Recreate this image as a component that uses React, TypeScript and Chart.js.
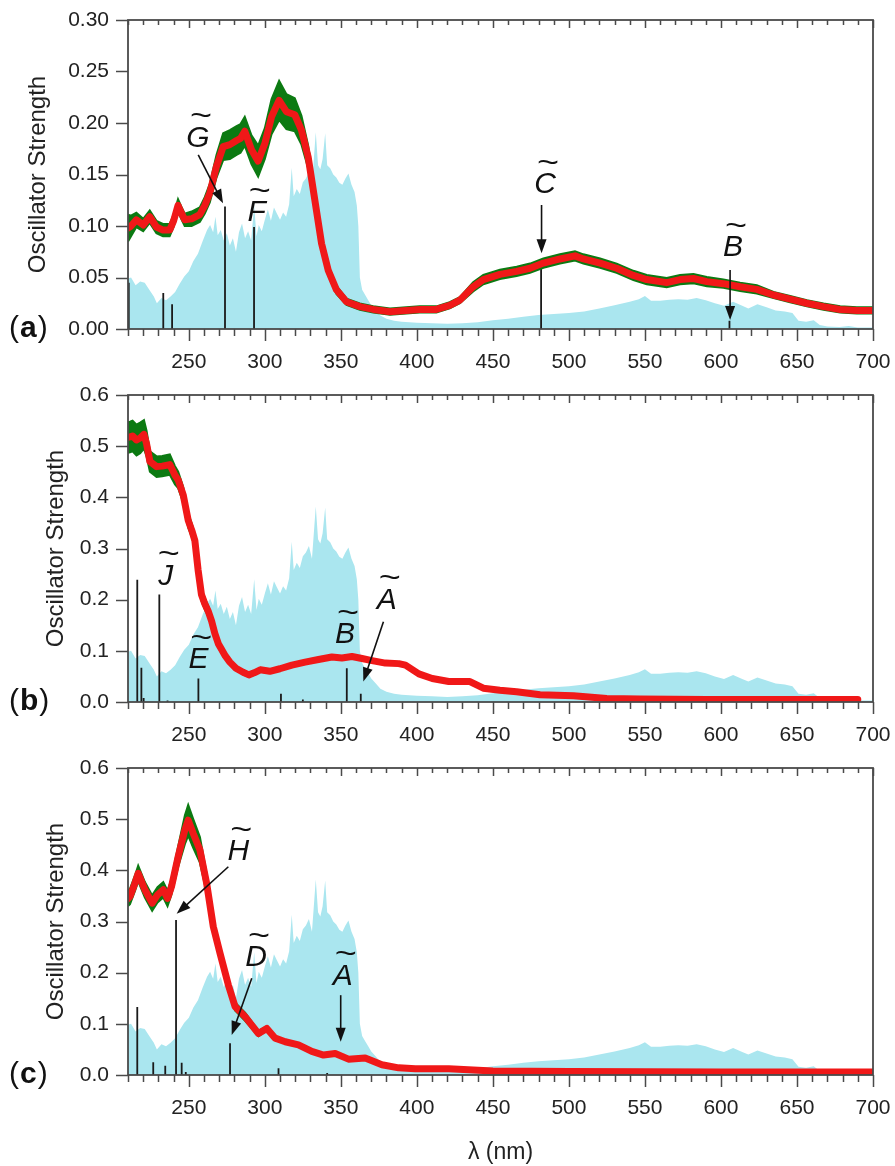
import { useEffect, useRef } from 'react';
import { Chart, registerables } from 'chart.js';

Chart.register(...registerables);

const FONT = '"Liberation Sans", Arial, Helvetica, sans-serif';

// ---------- shared reference spectrum (cyan), in units of panels (b)/(c) ----------
const refWavelength = [
  210, 212, 215, 218, 221, 224, 227, 229, 232, 235, 238, 241, 244, 247, 250, 253, 256, 259, 262, 264,
  266, 267.5, 269, 271, 273, 275, 277, 279, 281, 283, 285, 287, 289, 291, 293, 294.5, 296, 298, 300, 302,
  304, 306, 308, 310, 312, 314, 316, 317.7, 319, 321, 323, 325, 327, 329, 331, 333.5, 335, 336.5, 338, 339.7,
  341, 343, 345, 347, 349, 351, 353, 355, 357, 359, 360.5, 361.5, 362.5, 364, 366, 368, 370, 373, 376, 380,
  385, 390, 400, 410, 420, 430, 440, 450, 460, 470, 480, 490, 500, 510, 520, 530, 540, 546, 550, 554,
  560, 566, 572, 578, 584, 590, 596, 602, 608, 614, 618, 624, 630, 636, 642, 647, 651, 656, 661, 665,
  670, 678, 684, 690, 700,
];
const refSpectrum = [
  0.098, 0.100, 0.085, 0.092, 0.090, 0.076, 0.063, 0.050, 0.060, 0.056, 0.063, 0.072, 0.088, 0.102, 0.112, 0.132, 0.146, 0.170, 0.192, 0.202,
  0.188, 0.218, 0.182, 0.192, 0.172, 0.186, 0.162, 0.176, 0.150, 0.188, 0.205, 0.176, 0.190, 0.172, 0.240, 0.180, 0.202, 0.190, 0.212, 0.232,
  0.210, 0.236, 0.224, 0.212, 0.226, 0.218, 0.242, 0.313, 0.258, 0.272, 0.262, 0.285, 0.292, 0.305, 0.280, 0.382, 0.318, 0.310, 0.330, 0.380,
  0.318, 0.312, 0.300, 0.294, 0.284, 0.280, 0.292, 0.302, 0.280, 0.266, 0.240, 0.200, 0.100, 0.076, 0.066, 0.056, 0.046, 0.036, 0.026, 0.020,
  0.016, 0.014, 0.012, 0.011, 0.010, 0.011, 0.013, 0.017, 0.020, 0.024, 0.027, 0.029, 0.031, 0.034, 0.040, 0.046, 0.053, 0.058, 0.064, 0.055,
  0.055, 0.057, 0.058, 0.057, 0.060, 0.056, 0.050, 0.045, 0.053, 0.045, 0.040, 0.048, 0.042, 0.036, 0.034, 0.031, 0.016, 0.014, 0.017, 0.008,
  0.005, 0.004, 0.006, 0.003, 0.003,
];
const REF_SCALE_A = 0.5;
const REF_SCALE_BC = 1;

// ---------- panel (a) ----------
const wavelengthA = [
  210, 212, 215.5, 220, 224.3, 228.7, 233, 237.4, 240, 242.9, 245, 247.3, 251.8, 257.2, 260.5, 263.8, 268.2, 272.6, 277, 281.4,
  284, 286.8, 291.2, 295.6, 300, 304.4, 309.4, 314.2, 319.7, 324.1, 328.5, 332.9, 337.3, 341.7, 347.1, 353.7, 362.5, 371.3, 382.3, 393,
  401.8, 412.8, 421.6, 428.3, 437, 443.7, 454.6, 465.6, 474.4, 483.2, 494.1, 504, 509.5, 520.5, 531.4, 542.4, 551.2, 564.3, 573.1, 581.9,
  590.7, 601.6, 612.6, 623.6, 634.6, 645.5, 656.5, 667.5, 678.4, 689.4, 700,
];
const meanA = [
  0.098, 0.100, 0.106, 0.101, 0.109, 0.099, 0.096, 0.096, 0.105, 0.120, 0.113, 0.106, 0.107, 0.111, 0.120, 0.132, 0.158, 0.177, 0.179, 0.183,
  0.185, 0.192, 0.174, 0.163, 0.180, 0.206, 0.222, 0.211, 0.208, 0.193, 0.167, 0.125, 0.083, 0.057, 0.038, 0.0265, 0.0217, 0.019, 0.0168, 0.018,
  0.019, 0.019, 0.023, 0.028, 0.041, 0.048, 0.053, 0.056, 0.059, 0.064, 0.068, 0.071, 0.068, 0.064, 0.059, 0.052, 0.048, 0.045, 0.048, 0.049,
  0.046, 0.044, 0.041, 0.0385, 0.033, 0.029, 0.025, 0.0217, 0.019, 0.018, 0.018,
];
const bandA = [
  0.013, 0.010, 0.007, 0.006, 0.006, 0.006, 0.006, 0.006, 0.006, 0.006, 0.006, 0.006, 0.007, 0.007, 0.008, 0.009, 0.011, 0.013, 0.014, 0.014,
  0.014, 0.014, 0.014, 0.015, 0.015, 0.017, 0.019, 0.017, 0.016, 0.014, 0.011, 0.008, 0.006, 0.005, 0.004, 0.003, 0.003, 0.003, 0.003, 0.003,
  0.003, 0.003, 0.003, 0.003, 0.0045, 0.0045, 0.0045, 0.0045, 0.0045, 0.0045, 0.0045, 0.0045, 0.0045, 0.0045, 0.0045, 0.0045, 0.0045, 0.0045, 0.0045, 0.0045,
  0.0045, 0.004, 0.004, 0.004, 0.003, 0.003, 0.003, 0.003, 0.003, 0.003, 0.003,
];
const stickWavelengthA = [210.5, 233.2, 239, 273.8, 292.9, 481.7, 605.6];
const stickStrengthA = [0.045, 0.035, 0.024, 0.119, 0.099, 0.0605, 0.008];
const labelsA = [
  { text: 'G', x: 256, y: 0.185 },
  { text: 'F', x: 294.7, y: 0.1126 },
  { text: 'C', x: 484.3, y: 0.1398 },
  { text: 'B', x: 608, y: 0.0786 },
];
const arrowsA = [
  { x1: 256.2, y1: 0.169, x2: 272.5, y2: 0.122 },
  { x1: 482, y1: 0.1204, x2: 482, y2: 0.0735 },
  { x1: 606, y1: 0.0573, x2: 606, y2: 0.0087 },
];

// ---------- panel (b) ----------
const wavelengthB = [
  210, 211.3, 213, 215.6, 218, 220.5, 222.2, 224.4, 228.8, 232.5, 237.5, 240.9, 243, 246.3, 249.6, 252, 254, 256.1, 258.3, 260.5,
  262.7, 265, 267.1, 269.4, 271.5, 274, 277, 281, 285.7, 289.5, 293, 297, 303.3, 309.9, 317.8, 326.5, 335.3, 344.1, 350.7, 357.3,
  363.9, 370.5, 379.3, 388.1, 392.5, 401.3, 410.1, 421, 434.9, 443.7, 454.6, 465.6, 481, 503, 524.9, 546.8, 590.7, 634.6, 690,
];
const meanB = [
  0.517, 0.518, 0.520, 0.512, 0.516, 0.523, 0.505, 0.470, 0.460, 0.461, 0.464, 0.443, 0.434, 0.405, 0.355, 0.335, 0.315, 0.258, 0.210, 0.192,
  0.178, 0.158, 0.134, 0.114, 0.103, 0.090, 0.078, 0.066, 0.058, 0.053, 0.057, 0.063, 0.060, 0.065, 0.072, 0.078, 0.083, 0.088, 0.086, 0.089,
  0.085, 0.081, 0.076, 0.075, 0.072, 0.055, 0.046, 0.040, 0.040, 0.027, 0.023, 0.020, 0.014, 0.012, 0.007, 0.006, 0.005, 0.005, 0.005,
];
const bandB = [
  0.030, 0.030, 0.030, 0.030, 0.030, 0.028, 0.025, 0.020, 0.020, 0.020, 0.020, 0.018, 0.016, 0.015, 0.014, 0.013, 0.012, 0.012, 0.012, 0.011,
  0.010, 0.009, 0.008, 0.007, 0.006, 0.005, 0.004, 0.004, 0.004, 0.004, 0.004, 0.004, 0.003, 0.003, 0.003, 0.003, 0.003, 0.003, 0.003, 0.003,
  0.003, 0.003, 0.003, 0.003, 0.003, 0.002, 0.002, 0.002, 0.002, 0.002, 0.002, 0.002, 0.002, 0.002, 0.002, 0.002, 0.002, 0.002, 0.002,
];
const stickWavelengthB = [216.1, 218.8, 220.3, 230.6, 236, 256.3, 310.6, 325, 353.9, 363.1];
const stickStrengthB = [0.239, 0.067, 0.008, 0.21, 0.003, 0.046, 0.016, 0.005, 0.066, 0.016];
const labelsB = [
  { text: 'J', x: 234.8, y: 0.245 },
  { text: 'E', x: 256.3, y: 0.082 },
  { text: 'B', x: 352.8, y: 0.131 },
  { text: 'A', x: 380.2, y: 0.199 },
];
const arrowsB = [{ x1: 378, y1: 0.157, x2: 364.8, y2: 0.04 }];

// ---------- panel (c) ----------
const wavelengthC = [
  210, 211.3, 214.6, 216.7, 221.1, 225.9, 229.4, 233.2, 236, 238.6, 243, 247.4, 249.6, 252.9, 257.3, 261.7, 266.1, 270.5, 276, 280.4,
  287, 295.8, 301.3, 306.8, 313.4, 322.1, 330.9, 338.6, 346.3, 355, 366, 377, 388, 399, 421, 450, 500, 600, 700,
];
const meanC = [
  0.345, 0.349, 0.375, 0.394, 0.362, 0.336, 0.352, 0.362, 0.345, 0.368, 0.427, 0.479, 0.498, 0.472, 0.440, 0.375, 0.290, 0.238, 0.176, 0.134,
  0.114, 0.081, 0.091, 0.072, 0.065, 0.059, 0.046, 0.039, 0.042, 0.031, 0.033, 0.020, 0.014, 0.012, 0.012, 0.008, 0.007, 0.006, 0.006,
];
const bandC = [
  0.015, 0.015, 0.015, 0.015, 0.015, 0.015, 0.015, 0.015, 0.015, 0.015, 0.020, 0.028, 0.030, 0.028, 0.025, 0.018, 0.014, 0.012, 0.010, 0.008,
  0.008, 0.005, 0.004, 0.003, 0.003, 0.002, 0.002, 0.002, 0.002, 0.002, 0.002, 0.002, 0.002, 0.002, 0.002, 0.002, 0.002, 0.002, 0.002,
];
const stickWavelengthC = [216.1, 226.6, 234.5, 241.6, 245.3, 248, 277.1, 309, 341];
const stickStrengthC = [0.133, 0.025, 0.018, 0.303, 0.024, 0.006, 0.062, 0.013, 0.004];
const labelsC = [
  { text: 'H', x: 282.6, y: 0.436 },
  { text: 'D', x: 294.2, y: 0.229 },
  { text: 'A', x: 351.2, y: 0.192 },
];
const arrowsC = [
  { x1: 276, y1: 0.407, x2: 242, y2: 0.315 },
  { x1: 291.4, y1: 0.189, x2: 278.2, y2: 0.078 },
  { x1: 349.9, y1: 0.156, x2: 349.9, y2: 0.065 },
];

// ---------- axes ----------
const xTickLabels = [250, 300, 350, 400, 450, 500, 550, 600, 650, 700];
const X_MIN = 210;
const X_MAX = 700;
const X_MINOR_STEP = 10;
const yTicksA = [0, 0.05, 0.1, 0.15, 0.2, 0.25, 0.3];
const yTicksBC = [0, 0.1, 0.2, 0.3, 0.4, 0.5, 0.6];

type Label = { text: string; x: number; y: number };
type Arrow = { x1: number; y1: number; x2: number; y2: number };
type Panel = {
  tag: string;
  top: number;
  height: number;
  areaBottom: number;
  yMax: number;
  yTicks: number[];
  digits: number;
  wl: number[];
  mean: number[];
  band: number[];
  refScale: number;
  sticksX: number[];
  sticksY: number[];
  labels: Label[];
  arrows: Arrow[];
  titleCenter: number;
  xTitle: boolean;
};

const PANELS: Panel[] = [
  { tag: 'a', top: 0, height: 375, areaBottom: 329, yMax: 0.3, yTicks: yTicksA, digits: 2, wl: wavelengthA, mean: meanA, band: bandA, refScale: REF_SCALE_A, sticksX: stickWavelengthA, sticksY: stickStrengthA, labels: labelsA, arrows: arrowsA, titleCenter: 38, xTitle: false },
  { tag: 'b', top: 375, height: 373, areaBottom: 327, yMax: 0.6, yTicks: yTicksBC, digits: 1, wl: wavelengthB, mean: meanB, band: bandB, refScale: REF_SCALE_BC, sticksX: stickWavelengthB, sticksY: stickStrengthB, labels: labelsB, arrows: arrowsB, titleCenter: 56, xTitle: false },
  { tag: 'c', top: 748, height: 418, areaBottom: 327, yMax: 0.6, yTicks: yTicksBC, digits: 1, wl: wavelengthC, mean: meanC, band: bandC, refScale: REF_SCALE_BC, sticksX: stickWavelengthC, sticksY: stickStrengthC, labels: labelsC, arrows: arrowsC, titleCenter: 56, xTitle: true },
];

const W = 895;
const AREA_LEFT = 128;
const PAD_RIGHT = 22;
const PAD_TOP = 20;
const AXIS_COLOR = '#4a4a4a';
const RED = '#f01818';
const GREEN = '#0c7a12';
const CYAN = '#aae6ef';

function drawArrow(ctx: CanvasRenderingContext2D, x1: number, y1: number, x2: number, y2: number) {
  const ang = Math.atan2(y2 - y1, x2 - x1);
  const hl = 14;
  const hw = 5;
  ctx.save();
  ctx.strokeStyle = '#111';
  ctx.fillStyle = '#111';
  ctx.lineWidth = 1.6;
  ctx.beginPath();
  ctx.moveTo(x1, y1);
  ctx.lineTo(x2 - Math.cos(ang) * hl * 0.8, y2 - Math.sin(ang) * hl * 0.8);
  ctx.stroke();
  ctx.beginPath();
  ctx.moveTo(x2, y2);
  ctx.lineTo(x2 - Math.cos(ang) * hl + Math.sin(ang) * hw, y2 - Math.sin(ang) * hl - Math.cos(ang) * hw);
  ctx.lineTo(x2 - Math.cos(ang) * hl - Math.sin(ang) * hw, y2 - Math.sin(ang) * hl + Math.cos(ang) * hw);
  ctx.closePath();
  ctx.fill();
  ctx.restore();
}

function makePlugin(p: Panel) {
  return {
    id: 'decor_' + p.tag,
    afterDatasetsDraw(chart: any) {
      const ctx: CanvasRenderingContext2D = chart.ctx;
      const { left, right, top, bottom } = chart.chartArea;
      const xs = chart.scales.x;
      const ys = chart.scales.y;
      ctx.save();
      // frame
      ctx.strokeStyle = AXIS_COLOR;
      ctx.lineWidth = 1.8;
      ctx.strokeRect(left, top, right - left, bottom - top);
      ctx.lineWidth = 1.5;
      // x ticks (bottom outward, top inward)
      for (let v = X_MIN; v <= X_MAX; v += X_MINOR_STEP) {
        const px = Math.round(xs.getPixelForValue(v)) + 0.5;
        const major = xTickLabels.includes(v);
        ctx.beginPath();
        ctx.moveTo(px, bottom);
        ctx.lineTo(px, bottom + (major ? 12 : 7));
        ctx.moveTo(px, top);
        ctx.lineTo(px, top + (major ? 8 : 5));
        ctx.stroke();
      }
      // y ticks (left outward)
      for (const v of p.yTicks) {
        const py = Math.round(ys.getPixelForValue(v)) + 0.5;
        ctx.beginPath();
        ctx.moveTo(left, py);
        ctx.lineTo(left - 12, py);
        ctx.stroke();
      }
      // arrows
      for (const a of p.arrows) {
        drawArrow(ctx, xs.getPixelForValue(a.x1), ys.getPixelForValue(a.y1), xs.getPixelForValue(a.x2), ys.getPixelForValue(a.y2));
      }
      // state labels with tilde
      ctx.fillStyle = '#111';
      ctx.textAlign = 'center';
      ctx.textBaseline = 'middle';
      for (const l of p.labels) {
        const px = xs.getPixelForValue(l.x);
        const py = ys.getPixelForValue(l.y);
        ctx.font = `italic 30px ${FONT}`;
        ctx.fillText(l.text, px, py);
        ctx.save();
        ctx.translate(px + 3, py - 21);
        ctx.scale(1.35, 1);
        ctx.font = `28px ${FONT}`;
        ctx.fillText('~', 0, 0);
        ctx.restore();
      }
      // panel tag "(a)"
      ctx.textAlign = 'left';
      ctx.textBaseline = 'middle';
      const ly = bottom;
      let lx = 9;
      ctx.font = `30px ${FONT}`;
      ctx.fillText('(', lx, ly);
      lx += ctx.measureText('(').width + 1;
      ctx.font = `bold 30px ${FONT}`;
      ctx.fillText(p.tag, lx, ly);
      lx += ctx.measureText(p.tag).width + 1;
      ctx.font = `30px ${FONT}`;
      ctx.fillText(')', lx, ly);
      ctx.restore();
    },
  };
}

function PanelChart({ p }: { p: Panel }) {
  const ref = useRef<HTMLCanvasElement | null>(null);
  useEffect(() => {
    const canvas = ref.current;
    if (!canvas) return;
    const toPts = (xsArr: number[], ysArr: number[]) => xsArr.map((x, i) => ({ x, y: ysArr[i] }));
    const stickPts: any[] = [];
    p.sticksX.forEach((x, i) => {
      stickPts.push({ x, y: 0 }, { x, y: p.sticksY[i] }, { x, y: null });
    });
    const chart = new Chart(canvas, {
      type: 'line',
      data: {
        datasets: [
          {
            label: 'mean',
            data: toPts(p.wl, p.mean),
            borderColor: RED,
            borderWidth: 7,
            pointRadius: 0,
            fill: false,
            tension: 0,
            borderJoinStyle: 'round',
            borderCapStyle: 'round',
          },
          {
            label: 'upper',
            data: p.wl.map((x, i) => ({ x, y: p.mean[i] + p.band[i] })),
            borderColor: GREEN,
            borderWidth: 2,
            pointRadius: 0,
            fill: false,
            tension: 0,
          },
          {
            label: 'lower',
            data: p.wl.map((x, i) => ({ x, y: p.mean[i] - p.band[i] })),
            borderColor: GREEN,
            backgroundColor: GREEN,
            borderWidth: 2,
            pointRadius: 0,
            fill: 1,
            tension: 0,
          },
          {
            label: 'sticks',
            data: stickPts,
            borderColor: '#1a1a1a',
            borderWidth: 1.8,
            pointRadius: 0,
            fill: false,
            spanGaps: false,
            tension: 0,
          },
          {
            label: 'reference',
            data: toPts(refWavelength, refSpectrum.map((v) => v * p.refScale)),
            borderColor: 'rgba(0,0,0,0)',
            borderWidth: 0,
            backgroundColor: CYAN,
            pointRadius: 0,
            fill: 'origin',
            tension: 0,
          },
        ] as any,
      },
      options: {
        responsive: false,
        animation: false,
        devicePixelRatio: 1,
        parsing: false as any,
        layout: { padding: { left: 0, right: PAD_RIGHT, top: PAD_TOP, bottom: 0 } },
        plugins: { legend: { display: false }, tooltip: { enabled: false } },
        scales: {
          x: {
            type: 'linear',
            min: X_MIN,
            max: X_MAX,
            grid: { display: false, drawTicks: false },
            border: { display: false },
            ticks: {
              padding: 21,
              color: '#222',
              font: { family: FONT, size: 21 },
              autoSkip: false,
              maxRotation: 0,
              callback: (v: any) => String(v),
            },
            afterBuildTicks: (s: any) => {
              s.ticks = xTickLabels.map((value) => ({ value }));
            },
            afterFit: (s: any) => {
              s.height = p.height - p.areaBottom;
              s.paddingLeft = 0;
              s.paddingRight = 0;
              s.paddingTop = 0;
              s.paddingBottom = 0;
            },
            title: {
              display: p.xTitle,
              text: 'λ (nm)',
              color: '#222',
              font: { family: FONT, size: 23, lineHeight: 1.2 },
              padding: { top: 0, bottom: 0 },
            },
          },
          y: {
            type: 'linear',
            min: 0,
            max: p.yMax,
            grid: { display: false, drawTicks: false },
            border: { display: false },
            ticks: {
              padding: 19,
              color: '#222',
              font: { family: FONT, size: 21 },
              callback: (v: any) => Number(v).toFixed(p.digits),
            },
            afterBuildTicks: (s: any) => {
              s.ticks = p.yTicks.map((value) => ({ value }));
            },
            afterFit: (s: any) => {
              s.width = AREA_LEFT;
              s.paddingLeft = 0;
              s.paddingRight = 0;
              s.paddingTop = 0;
              s.paddingBottom = 0;
            },
            title: {
              display: true,
              text: 'Oscillator Strength',
              color: '#222',
              font: { family: FONT, size: 24, lineHeight: 1.2 },
              padding: { top: p.titleCenter - 14.4, bottom: 0 },
            },
          },
        },
      } as any,
      plugins: [makePlugin(p)],
    });
    return () => chart.destroy();
  }, [p]);
  return (
    <canvas
      ref={ref}
      width={W}
      height={p.height}
      style={{ position: 'absolute', left: 0, top: p.top, width: W, height: p.height, display: 'block' }}
    />
  );
}

export default function App() {
  return (
    <div style={{ position: 'absolute', left: 0, top: 0, width: W, height: 1166, background: '#fff' }}>
      {PANELS.map((p) => (
        <PanelChart key={p.tag} p={p} />
      ))}
    </div>
  );
}
